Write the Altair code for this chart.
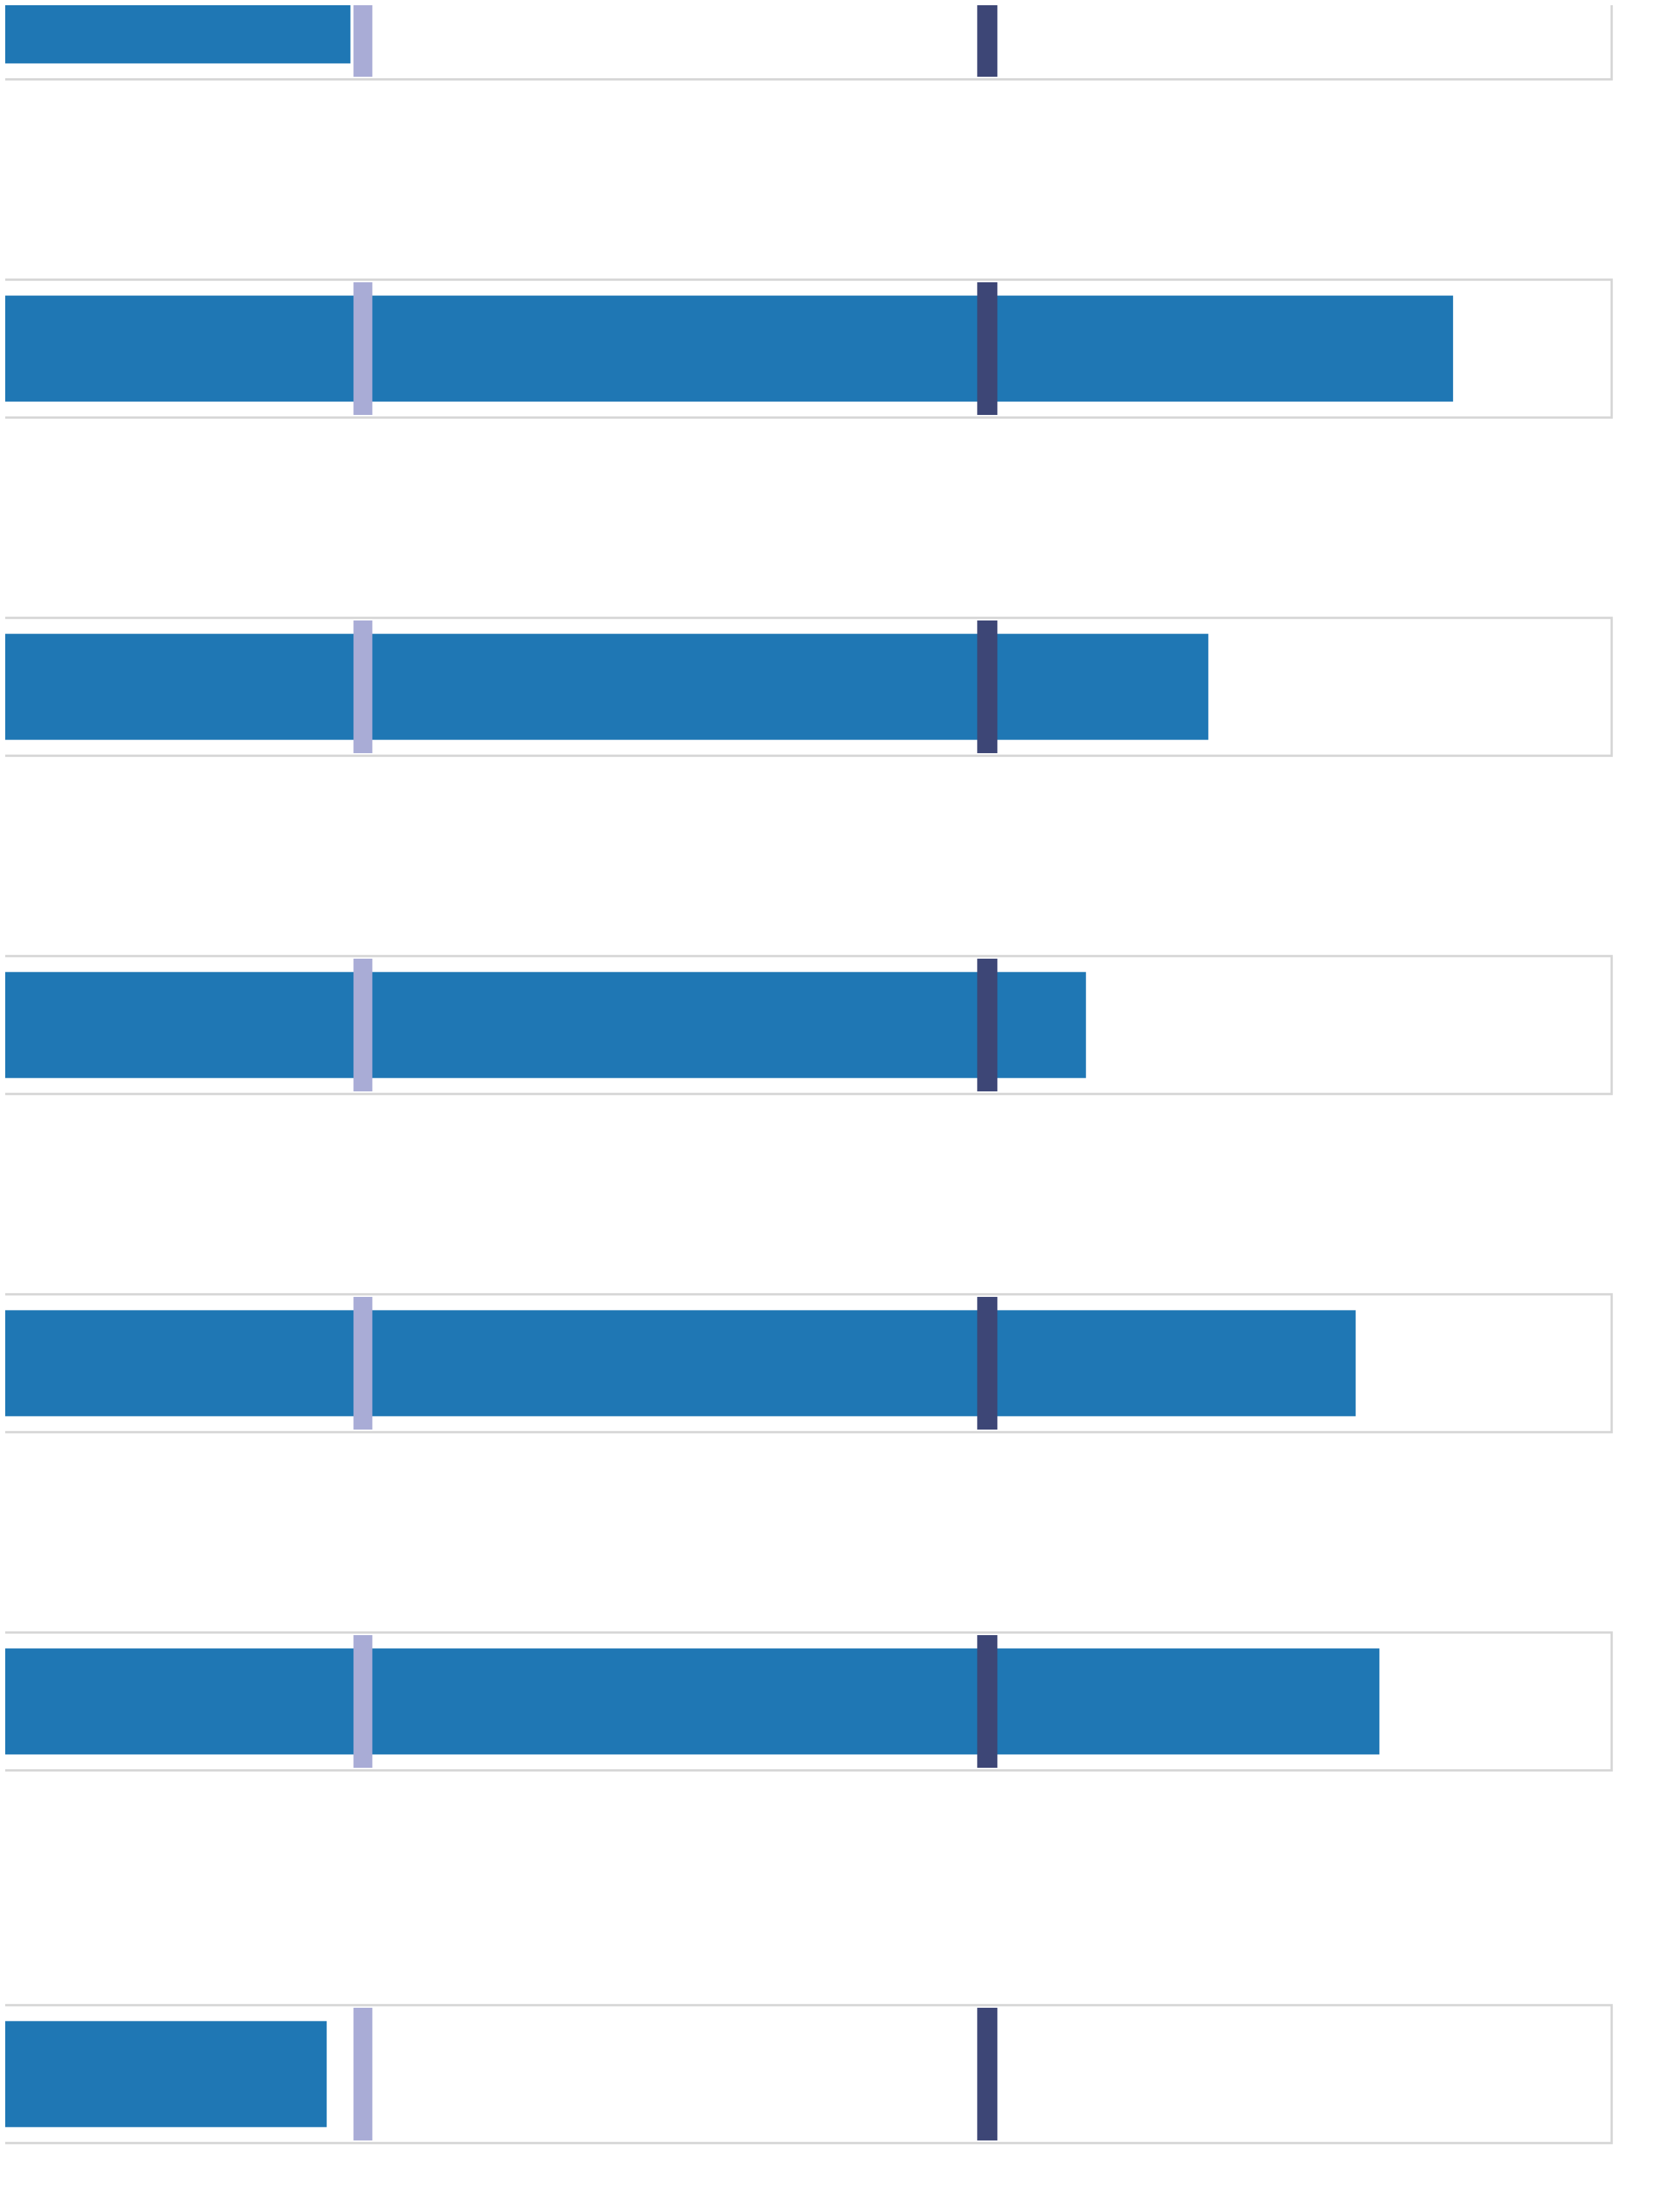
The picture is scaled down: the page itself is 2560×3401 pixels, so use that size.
import altair as alt
import pandas as pd

# Data (x scale 0-150, markers at 50 and 100)
rows = ["Row 1", "Row 2", "Row 3", "Row 4", "Row 5", "Row 6", "Row 7"]
measures = [49.0, 137.3, 117.7, 107.9, 129.5, 131.4, 47.1]
marker_low = [50, 50, 50, 50, 50, 50, 50]
marker_high = [100, 100, 100, 100, 100, 100, 100]
x_domain = [0, 150]

BAR_COLOR = "#1f77b4"
LOW_COLOR = "#a9acd6"
HIGH_COLOR = "#3d4676"
FRAME_COLOR = "#d6d6d6"


def row_chart(i):
    df = pd.DataFrame({
        "row": [rows[i]],
        "measure": [measures[i]],
        "low": [marker_low[i]],
        "high": [marker_high[i]],
    })
    xscale = alt.Scale(domain=x_domain, nice=False, zero=True)
    base = alt.Chart(df).encode(y=alt.Y("row:N", axis=None))
    bar = base.mark_bar(size=163, color=BAR_COLOR).encode(
        x=alt.X("measure:Q", scale=xscale, axis=None)
    )
    low = base.mark_tick(thickness=29, size=204, color=LOW_COLOR, opacity=1).encode(
        x=alt.X("low:Q", scale=xscale, axis=None)
    )
    high = base.mark_tick(thickness=31, size=204, color=HIGH_COLOR, opacity=1).encode(
        x=alt.X("high:Q", scale=xscale, axis=None)
    )
    return alt.layer(bar, low, high).properties(width=2880, height=212)


top = alt.vconcat(*[row_chart(i) for i in range(6)], spacing=304)
chart = (
    alt.vconcat(top, row_chart(6), spacing=357)
    .properties(padding={"left": -412, "top": -100, "right": 10, "bottom": 10})
    .configure_view(stroke=FRAME_COLOR, strokeWidth=3.5)
)

chart.save("out.html", embed_options={"renderer": "svg", "actions": False})
